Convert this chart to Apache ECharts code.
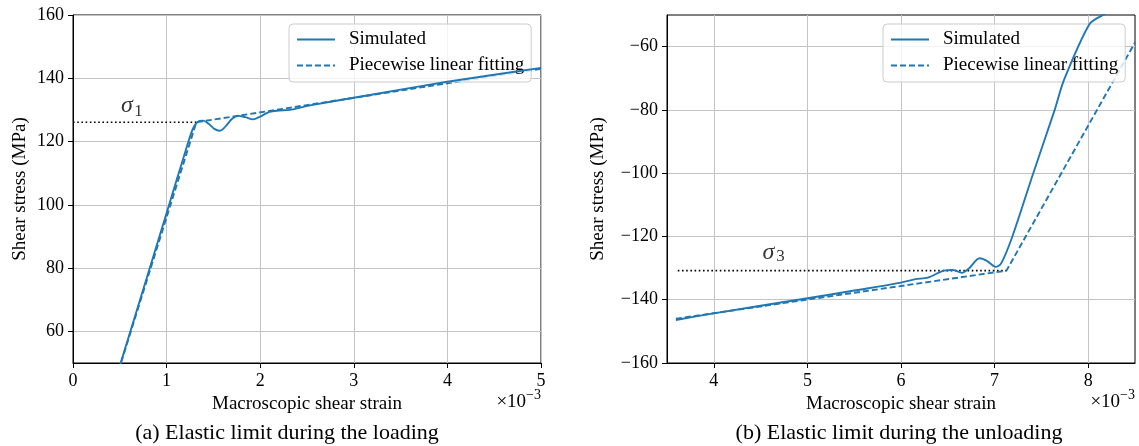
<!DOCTYPE html>
<html>
<head>
<meta charset="utf-8">
<script src="https://cdn.jsdelivr.net/npm/echarts@6/dist/echarts.min.js"></script>
<style>
  html, body { margin: 0; padding: 0; background: #fff; }
  #chart { width: 1139px; height: 446px; }
</style>
</head>
<body>
<div id="chart"></div>
<script>
// strain in units of 1e-3, stress in MPa
const simLoad = [
  [0.4, 39.4], [1.0, 97.4], [1.2, 116.8], [1.28, 124.0], [1.33, 126.2], [1.39, 126.6],
  [1.45, 125.6], [1.51, 124.0], [1.567, 123.4], [1.63, 124.8], [1.7, 127.2], [1.763, 128.1],
  [1.84, 127.7], [1.923, 127.0], [2.0, 127.9], [2.1, 129.4], [2.2, 129.8], [2.315, 130.0],
  [2.45, 130.9], [2.564, 131.6], [3.03, 134.0], [3.5, 136.4], [4.0, 138.9], [4.5, 141.1], [5.0, 143.3]
];
const fitLoad = [[0.4, 39.4], [1.318, 126.1], [5.0, 143.0]];
const sigma1 = 126.1;
const sigma1End = 1.318;

const simUnload = [
  [3.595, -146.4], [4.0, -144.3], [5.0, -139.55], [5.5, -137.1], [6.0, -134.6], [6.153, -133.5],
  [6.287, -133.0], [6.459, -130.8], [6.554, -130.6], [6.65, -131.5], [6.726, -130.1], [6.84, -126.9],
  [6.917, -127.7], [7.012, -129.6], [7.07, -128.5], [7.19, -120.0], [7.413, -100.0], [7.642, -80.0],
  [7.738, -70.8], [8.013, -52.9], [8.157, -50.0], [8.5, -44.0]
];
const fitUnload = [[3.595, -146.0], [7.127, -130.8], [8.5, -58.7]];
const sigma3 = -130.8;
const sigma3Start = 3.615;
const sigma3End = 7.127;

const xTicksLoad = [0, 1, 2, 3, 4, 5];
const yTicksLoad = [60, 80, 100, 120, 140, 160];
const xTicksUnload = [4, 5, 6, 7, 8];
const yTicksUnload = [-160, -140, -120, -100, -80, -60];

const seriesNames = ['Simulated', 'Piecewise linear fitting'];
const captions = ['(a) Elastic limit during the loading', '(b) Elastic limit during the unloading'];

const BLUE = '#1f77b4';
const FONT = 'Liberation Serif';
const GRIDC = '#c4c4c4';

function xAx(idx, min, max, ticks) {
  return {
    type: 'value', gridIndex: idx, min: min, max: max,
    name: 'Macroscopic shear strain', nameLocation: 'middle', nameGap: 26,
    nameTextStyle: { fontFamily: FONT, fontSize: 19, color: '#000' },
    axisLine: { show: true, onZero: false, lineStyle: { color: '#000', width: 1 } },
    axisTick: { show: true, length: 5, customValues: ticks, lineStyle: { color: '#000' } },
    axisLabel: { customValues: ticks, margin: 9, fontFamily: FONT, fontSize: 18, color: '#000',
      formatter: v => String(v).replace('-', '\u2212') },
    splitLine: { show: true, lineStyle: { color: GRIDC, width: 1 } }
  };
}
function yAx(idx, min, max, ticks, gap) {
  return {
    type: 'value', gridIndex: idx, min: min, max: max,
    name: 'Shear stress (MPa)', nameLocation: 'middle', nameGap: gap, nameRotate: 90,
    nameTextStyle: { fontFamily: FONT, fontSize: 19, color: '#000' },
    axisLine: { show: true, onZero: false, lineStyle: { color: '#000', width: 1 } },
    axisTick: { show: true, length: 5, customValues: ticks, lineStyle: { color: '#000' } },
    axisLabel: { customValues: ticks, margin: 9, fontFamily: FONT, fontSize: 18, color: '#000',
      formatter: v => String(v).replace('-', '\u2212') },
    splitLine: { show: true, lineStyle: { color: GRIDC, width: 1 } }
  };
}
function curve(name, idx, data, dashed) {
  return {
    name: name, type: 'line', xAxisIndex: idx, yAxisIndex: idx, data: data,
    symbol: 'none', showSymbol: false, smooth: dashed ? false : 0.3, clip: true,
    lineStyle: { color: BLUE, width: 1.9, type: dashed ? [6, 3] : 'solid' },
    itemStyle: { color: BLUE }, z: dashed ? 3 : 4
  };
}
function dotted(idx, data) {
  return {
    type: 'line', xAxisIndex: idx, yAxisIndex: idx, data: data, symbol: 'none',
    lineStyle: { color: '#000', width: 1.6, type: [1.6, 2.6] }, z: 2, silent: true
  };
}
function note(idx, pos, text, size, italic) {
  return {
    type: 'scatter', xAxisIndex: idx, yAxisIndex: idx, data: [pos], symbolSize: 0, silent: true, z: 5,
    label: {
      show: true, position: 'inside', formatter: text,
      fontFamily: FONT, fontSize: size, fontStyle: italic ? 'italic' : 'normal', color: '#000'
    }
  };
}
function legendAt(left) {
  return {
    data: seriesNames, orient: 'vertical', left: left, top: 24,
    itemWidth: 38, itemHeight: 18, itemGap: 7, padding: [6, 7, 7, 7],
    backgroundColor: 'rgba(255,255,255,0.8)', borderColor: '#cccccc', borderWidth: 1, borderRadius: 4,
    itemStyle: { opacity: 0 },
    textStyle: { fontFamily: FONT, fontSize: 19, color: '#000', padding: [0, 0, 0, 9] },
    selectedMode: false
  };
}
function offsetText(right) {
  return {
    type: 'text', x: right, y: 388,
    style: {
      text: '{n|\u00d710}{p|\u22123}', align: 'right', verticalAlign: 'top',
      rich: {
        n: { fontFamily: FONT, fontSize: 19, lineHeight: 24, verticalAlign: 'bottom', fill: '#000' },
        p: { fontFamily: FONT, fontSize: 14, lineHeight: 13, verticalAlign: 'top', fill: '#000' }
      }
    }
  };
}

const chart = echarts.init(document.getElementById('chart'), null, { renderer: 'canvas' });
chart.setOption({
  animation: false,
  backgroundColor: '#fff',
  grid: [
    { left: 73, top: 15, width: 468, height: 348, show: true, borderColor: '#000', borderWidth: 1, backgroundColor: 'transparent' },
    { left: 667, top: 15, width: 468, height: 348, show: true, borderColor: '#000', borderWidth: 1, backgroundColor: 'transparent' }
  ],
  xAxis: [xAx(0, 0, 5, xTicksLoad), xAx(1, 3.5, 8.5, xTicksUnload)],
  yAxis: [yAx(0, 50, 160, yTicksLoad, 43), yAx(1, -160, -50, yTicksUnload, 59)],
  legend: [legendAt(289), legendAt(883)],
  series: [
    curve(seriesNames[0], 0, simLoad, false),
    curve(seriesNames[1], 0, fitLoad, true),
    dotted(0, [[0, sigma1], [sigma1End, sigma1]]),
    note(0, [0.576, 131.4], '\u03c3', 24, true),
    note(0, [0.70, 129.4], '1', 17, false),
    curve(seriesNames[0], 1, simUnload, false),
    curve(seriesNames[1], 1, fitUnload, true),
    dotted(1, [[sigma3Start, sigma3], [sigma3End, sigma3]]),
    note(1, [4.584, -125.1], '\u03c3', 24, true),
    note(1, [4.712, -126.5], '3', 17, false)
  ],
  graphic: [
    offsetText(541),
    offsetText(1135),
    { type: 'text', x: 287, y: 433, style: { text: captions[0], align: 'center', verticalAlign: 'middle', fontFamily: FONT, fontSize: 22, fill: '#000' } },
    { type: 'text', x: 899, y: 433, style: { text: captions[1], align: 'center', verticalAlign: 'middle', fontFamily: FONT, fontSize: 22, fill: '#000' } }
  ]
});
</script>
</body>
</html>
